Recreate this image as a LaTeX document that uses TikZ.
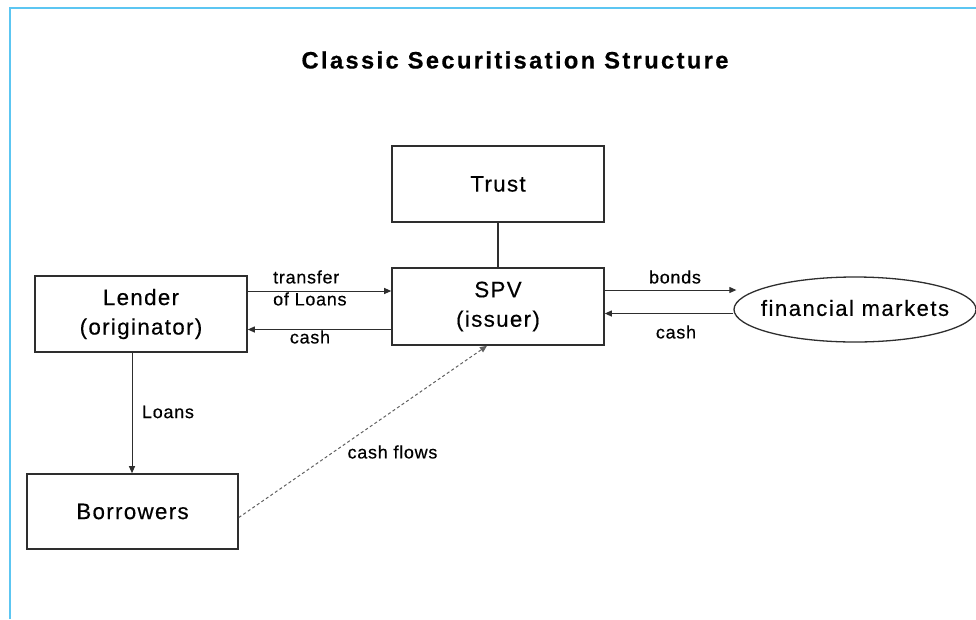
\documentclass[tikz,border=0pt]{standalone}
\usepackage{fontspec}
\setmainfont{Liberation Sans}
\newfontfamily\boxfont[LetterSpace=6,FakeBold=0.4]{Liberation Sans}
\newfontfamily\marketfont[LetterSpace=7,FakeBold=0.4]{Liberation Sans}
\newfontfamily\labelfont[LetterSpace=4,FakeBold=0.4]{Liberation Sans}
\newfontfamily\titlefont[LetterSpace=10,FakeBold=0.5]{Liberation Sans Bold}
\usetikzlibrary{arrows.meta,shapes.geometric}
\definecolor{framecol}{HTML}{5CC6F2}
\definecolor{linecol}{HTML}{2E2E2E}
\tikzset{
  x=1pt, y=-1pt,
  stepbox/.style={draw=linecol, line width=1.6pt, fill=white, inner sep=0pt,
    align=center, font=\boxfont\fontsize{22.3}{29.5}\selectfont},
  marketnode/.style={ellipse, draw=linecol, line width=1.3pt, inner sep=0pt},
  flow/.style={draw=linecol, line width=1pt, -{Triangle[length=7pt,width=6pt]}},
  dottedflow/.style={flow, draw=gray!75!black, dash pattern=on 3pt off 2.5pt},
  lbl/.style={inner sep=0pt, font=\labelfont\fontsize{18}{22}\selectfont}
}
\begin{document}
\begin{tikzpicture}
  \useasboundingbox (0,0) rectangle (976,619);
  % outer frame (left and top edges)
  \draw[framecol, line width=2pt] (9.5,619) -- (9.5,8) -- (976,8);

  % title
  \node[inner sep=0pt, font=\titlefont\fontsize{23.7}{28}\selectfont] (title) at (515,60) {Classic Securitisation Structure};

  % parties
  \node[stepbox, minimum width=212pt, minimum height=76pt] (trust) at (498,184) {Trust};
  \node[stepbox, minimum width=212pt, minimum height=77pt] (spv) at (498,306.5) {SPV\\(issuer)};
  \node[stepbox, minimum width=212pt, minimum height=76pt] (lender) at (141,314) {Lender\\(originator)};
  \node[stepbox, minimum width=211pt, minimum height=75pt] (borrowers) at (132.5,511.5) {Borrowers};
  \node[marketnode, minimum width=242pt, minimum height=65pt] (fm) at (855,309.5) {};
  \node[inner sep=0pt, font=\marketfont\fontsize{22}{27}\selectfont] (fmtext) at ([yshift=1.5pt]fm.center) {financial markets};

  % Trust -- SPV
  \draw[linecol, line width=1.3pt] (trust.south) -- (spv.north);

  % Lender <-> SPV
  \coordinate (lA) at ([yshift=23pt]lender.east);
  \draw[flow] (lA) -- (lA -| spv.west);
  \coordinate (sA) at ([yshift=-23pt]spv.west);
  \draw[flow] (sA) -- (sA -| lender.east);
  \node[lbl, align=left, anchor=west] (tlbl) at (273,288) {transfer\\of Loans};
  \node[lbl] (c1lbl) at (310,337) {cash};

  % SPV <-> financial markets
  \coordinate (sB) at ([yshift=16.5pt]spv.east);
  \draw[flow] (sB) -- ([xshift=3pt]sB -| fm.west);
  \coordinate (fB) at ([yshift=-4pt]fm.west);
  \draw[flow] (fB) -- (fB -| spv.east);
  \node[lbl] (blbl) at (675,277) {bonds};
  \node[lbl] (c2lbl) at (676,332) {cash};

  % Lender -> Borrowers
  \coordinate (lC) at ([xshift=-9pt]lender.south);
  \draw[flow] (lC) -- (lC |- borrowers.north);
  \node[lbl] (llbl) at (168,412) {Loans};

  % Borrowers -> SPV
  \draw[dottedflow] ([yshift=-6pt]borrowers.east) -- ([xshift=-11pt]spv.south);
  \node[lbl] (cflbl) at (392.5,452) {cash flows};
\end{tikzpicture}
\end{document}
